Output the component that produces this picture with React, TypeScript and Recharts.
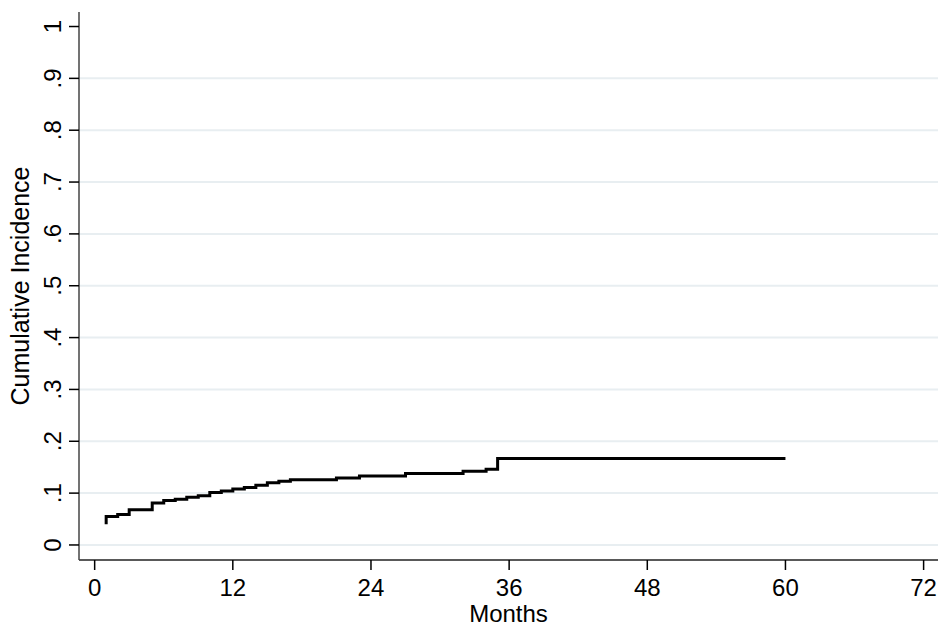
import { LineChart, Line, XAxis, YAxis, ReferenceLine } from 'recharts';

// cumulative incidence step curve (months since start)
const months = [1, 1, 2, 3, 5, 6, 7, 8, 9, 10, 11, 12, 13, 14, 15, 16, 17, 21, 23, 27, 32, 34, 35, 60];
const incidence = [
  0.040, 0.055, 0.059, 0.068, 0.081, 0.086, 0.088, 0.092, 0.095, 0.101, 0.104, 0.108,
  0.111, 0.115, 0.120, 0.123, 0.126, 0.129, 0.133, 0.138, 0.142, 0.146, 0.167, 0.167,
];

const xTicks = [0, 12, 24, 36, 48, 60, 72];
const yTicks = [0, 0.1, 0.2, 0.3, 0.4, 0.5, 0.6, 0.7, 0.8, 0.9, 1];
const gridLines = [0, 0.1, 0.2, 0.3, 0.4, 0.5, 0.6, 0.7, 0.8, 0.9];

const data = months.map((m, i) => ({ month: m, value: incidence[i] }));

const FONT = '"Liberation Sans", Arial, Helvetica, sans-serif';

const fmtY = (v: number) => {
  if (v === 0) return '0';
  if (v === 1) return '1';
  return '.' + Math.round(v * 10);
};

const XTick = (props: any) => {
  const { x, y, payload } = props;
  return (
    <text x={x} y={y + 24} textAnchor="middle" fontSize={24} fontFamily={FONT} fill="#000">
      {payload.value}
    </text>
  );
};

const YTick = (props: any) => {
  const { y, payload } = props;
  const bx = 61;
  return (
    <text
      x={bx}
      y={y}
      transform={`rotate(-90, ${bx}, ${y})`}
      textAnchor="middle"
      fontSize={24}
      fontFamily={FONT}
      fill="#000"
    >
      {fmtY(payload.value)}
    </text>
  );
};

export default function App() {
  return (
    <div style={{ position: 'absolute', left: 0, top: 0, width: 938, height: 626, background: '#fff' }}>
      <LineChart width={938} height={626} data={data} margin={{ top: 12, right: 0, bottom: 0, left: 0 }}>
        {gridLines.map((g) => (
          <ReferenceLine key={g} y={g} stroke="#e8eef1" strokeWidth={2} ifOverflow="hidden" />
        ))}
        <XAxis
          dataKey="month"
          type="number"
          domain={[-1.36, 73.25]}
          ticks={xTicks}
          allowDataOverflow
          height={66}
          tickSize={10}
          tickLine={{ stroke: '#000', strokeWidth: 1.5 }}
          axisLine={{ stroke: '#222', strokeWidth: 1.5 }}
          tick={<XTick />}
          interval={0}
          label={{
            value: 'Months',
            position: 'insideBottom',
            offset: 4,
            fontSize: 24,
            fontFamily: FONT,
            fill: '#000',
          }}
        />
        <YAxis
          type="number"
          domain={[-0.029, 1.028]}
          ticks={yTicks}
          allowDataOverflow
          width={79}
          tickSize={10}
          tickLine={{ stroke: '#000', strokeWidth: 1.5 }}
          axisLine={{ stroke: '#444', strokeWidth: 1.5 }}
          tick={<YTick />}
          interval={0}
          label={{
            value: 'Cumulative Incidence',
            angle: -90,
            position: 'insideLeft',
            offset: 20,
            fontSize: 25,
            fontFamily: FONT,
            fill: '#000',
            style: { textAnchor: 'middle' },
          }}
        />
        <Line
          type="stepAfter"
          dataKey="value"
          stroke="#000"
          strokeWidth={3}
          dot={false}
          activeDot={false}
          isAnimationActive={false}
        />
      </LineChart>
    </div>
  );
}
